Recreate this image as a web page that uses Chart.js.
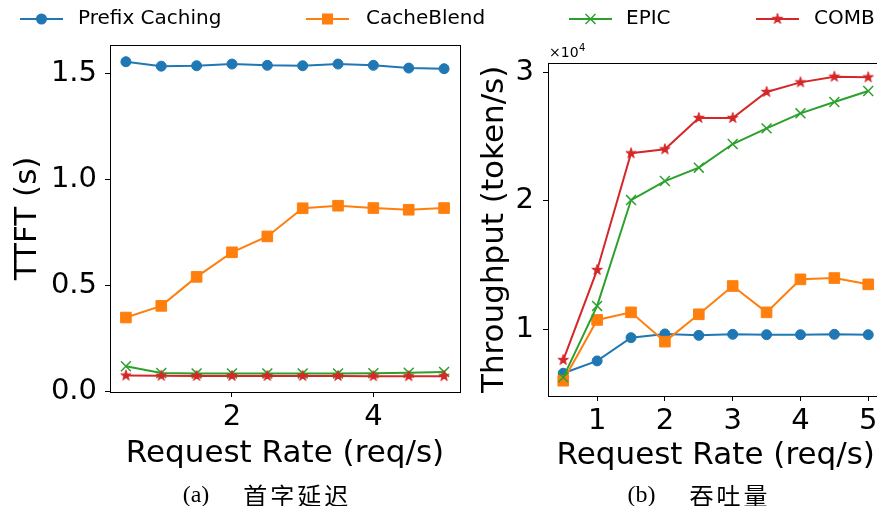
<!DOCTYPE html>
<html>
<head>
<meta charset="utf-8">
<script src="https://cdn.jsdelivr.net/npm/chart.js@4.4.1/dist/chart.umd.min.js"></script>
<style>
  html, body { margin: 0; padding: 0; background: #fff; overflow: hidden; }
  #wrap { position: relative; width: 877px; height: 506px; overflow: hidden; }
  #c1, #c2 { position: absolute; left: 0; top: 0; }
  .cap { position: absolute; top: 477px; display: flex; align-items: center; white-space: nowrap; transform: translateX(-50%); color: #000; }
  .cap .lbl { font: 24px "Liberation Serif", serif; }
  .cap .zh { font: 24px "Noto Sans CJK SC", sans-serif; letter-spacing: 3px; margin-left: 34px; }
</style>
</head>
<body>
<div id="wrap">
  <canvas id="c1" width="877" height="506"></canvas>
  <canvas id="c2" width="910" height="506"></canvas>
  <div class="cap" style="left:267px"><span class="lbl">(a)</span><span class="zh">首字延迟</span></div>
  <div class="cap" style="left:699px"><span class="lbl">(b)</span><span class="zh">吞吐量</span></div>
</div>
<script>
// data
const rates = [0.5, 1, 1.5, 2, 2.5, 3, 3.5, 4, 4.5, 5];
const seriesNames = ['Prefix Caching', 'CacheBlend', 'EPIC', 'COMB'];

// (a) TTFT in seconds
const ttftPrefix = [1.555, 1.534, 1.536, 1.544, 1.538, 1.536, 1.544, 1.538, 1.525, 1.522];
const ttftBlend  = [0.347, 0.402, 0.539, 0.655, 0.730, 0.863, 0.875, 0.864, 0.856, 0.864];
const ttftEpic   = [0.117, 0.085, 0.083, 0.083, 0.083, 0.083, 0.083, 0.084, 0.086, 0.090];
const ttftComb   = [0.073, 0.072, 0.071, 0.071, 0.071, 0.071, 0.071, 0.070, 0.070, 0.070];

// (b) throughput in token/s
const tputPrefix = [6580, 7540, 9350, 9640, 9530, 9610, 9580, 9580, 9610, 9580];
const tputBlend  = [6000, 10730, 11320, 9040, 11170, 13370, 11320, 13890, 13990, 13500];
const tputEpic   = [6260, 11820, 20060, 21540, 22580, 24420, 25640, 26810, 27690, 28550];
const tputComb   = [7610, 14620, 23700, 24010, 26450, 26450, 28470, 29220, 29660, 29610];

// tick labels
const ttftTicks = [0, 0.5, 1.0, 1.5];
const rateTicksA = [2, 4];
const rateTicksB = [1, 2, 3, 4, 5];
const tputTicks = [10000, 20000, 30000];

const FONT = 'DejaVu Sans';
const colors = ['#1f77b4', '#ff7f0e', '#2ca02c', '#d62728'];

// filled 5-point star like matplotlib '*'
function starCanvas(color, r) {
  const s = 16;
  const c = document.createElement('canvas');
  c.width = s; c.height = s;
  const g = c.getContext('2d');
  g.translate(s / 2, s / 2);
  g.beginPath();
  for (let i = 0; i < 10; i++) {
    const rad = i % 2 ? r * 0.382 : r;
    const a = -Math.PI / 2 + i * Math.PI / 5;
    g.lineTo(rad * Math.cos(a), rad * Math.sin(a));
  }
  g.closePath();
  g.fillStyle = color; g.fill();
  g.lineWidth = 1; g.strokeStyle = color; g.stroke();
  return c;
}
const star = starCanvas(colors[3], 5.5);

const markers = [
  { style: 'circle', radius: 5, bw: 1 },
  { style: 'rect', radius: 7.5, bw: 1 },
  { style: 'crossRot', radius: 7, bw: 1.5 },
  { style: star, radius: 6, bw: 0 }
];

function series(i, data) {
  const m = markers[i];
  return {
    label: seriesNames[i],
    data: rates.map((r, k) => ({ x: r, y: data[k] })),
    borderColor: colors[i],
    backgroundColor: colors[i],
    borderWidth: 2,
    pointStyle: m.style,
    pointRadius: m.radius,
    pointHoverRadius: m.radius,
    pointBorderWidth: m.bw,
    pointBorderColor: colors[i],
    pointBackgroundColor: colors[i],
    order: 4 - i,
    tension: 0,
    clip: false
  };
}

// box around the plot area (all four spines)
const frame = {
  id: 'frame',
  afterDraw(chart) {
    const { ctx, chartArea: a } = chart;
    ctx.save();
    ctx.strokeStyle = '#000';
    ctx.lineWidth = 1;
    ctx.strokeRect(Math.round(a.left) + 0.5, Math.round(a.top) + 0.5,
      Math.round(a.right - a.left), Math.round(a.bottom - a.top));
    ctx.restore();
  }
};

// shared legend across the top
const topLegend = {
  id: 'topLegend',
  afterDraw(chart) {
    const ctx = chart.ctx;
    const lineX = [20, 306, 569, 756];
    const textX = [78, 366, 626, 814];
    const y = 19;
    ctx.save();
    seriesNames.forEach((name, i) => {
      ctx.strokeStyle = colors[i];
      ctx.fillStyle = colors[i];
      ctx.lineWidth = 2;
      ctx.beginPath();
      ctx.moveTo(lineX[i], y); ctx.lineTo(lineX[i] + 43, y);
      ctx.stroke();
      const cx = lineX[i] + 21.5;
      if (i === 0) {
        ctx.beginPath(); ctx.arc(cx, y, 5.5, 0, Math.PI * 2); ctx.fill();
      } else if (i === 1) {
        ctx.fillRect(cx - 5.5, y - 5.5, 11, 11);
      } else if (i === 2) {
        ctx.lineWidth = 1.5;
        ctx.beginPath();
        ctx.moveTo(cx - 5, y - 5); ctx.lineTo(cx + 5, y + 5);
        ctx.moveTo(cx + 5, y - 5); ctx.lineTo(cx - 5, y + 5);
        ctx.stroke();
      } else {
        ctx.drawImage(star, cx - 8, y - 8);
      }
      ctx.fillStyle = '#000';
      ctx.font = '20px "' + FONT + '"';
      ctx.textBaseline = 'middle';
      ctx.fillText(name, textX[i], y);
    });
    ctx.restore();
  }
};

// x10^4 offset text on the throughput axis
const offsetText = {
  id: 'offsetText',
  afterDraw(chart) {
    const { ctx, chartArea: a } = chart;
    ctx.save();
    ctx.fillStyle = '#000';
    ctx.textBaseline = 'alphabetic';
    ctx.font = '14px "' + FONT + '"';
    ctx.fillText('×10', a.left + 1, 57);
    const w = ctx.measureText('×10').width;
    ctx.font = '10px "' + FONT + '"';
    ctx.fillText('4', a.left + 1 + w + 0.5, 51);
    ctx.restore();
  }
};

function gridOpts() {
  return { display: true, drawOnChartArea: false, drawTicks: true, tickLength: 5, color: '#000', lineWidth: 1 };
}
function tickFont() { return { family: FONT, size: 29 }; }
function titleFont() { return { family: FONT, size: 31 }; }

Chart.defaults.animation = false;
Chart.defaults.font.family = FONT;

new Chart(document.getElementById('c1').getContext('2d'), {
  type: 'line',
  data: {
    datasets: [series(0, ttftPrefix), series(1, ttftBlend), series(2, ttftEpic), series(3, ttftComb)]
  },
  options: {
    responsive: false,
    animation: false,
    layout: { padding: { left: 0, right: 417, top: 45, bottom: 0 } },
    plugins: { legend: { display: false }, tooltip: { enabled: false } },
    scales: {
      x: {
        type: 'linear', min: 0.275, max: 5.225,
        afterBuildTicks: s => { s.ticks = rateTicksA.map(v => ({ value: v })); },
        afterFit: s => { s.height = 114; },
        grid: gridOpts(),
        border: { display: false },
        ticks: { font: tickFont(), color: '#000', padding: 3, maxRotation: 0, autoSkip: false, callback: v => String(v) },
        title: { display: true, text: 'Request Rate (req/s)', font: titleFont(), color: '#000', padding: { top: 0, bottom: 33 } }
      },
      y: {
        type: 'linear', min: -0.0047, max: 1.634,
        afterBuildTicks: s => { s.ticks = ttftTicks.map(v => ({ value: v })); },
        afterFit: s => { s.width = 110; },
        grid: gridOpts(),
        border: { display: false },
        ticks: { font: tickFont(), color: '#000', padding: 8, callback: v => v.toFixed(1) },
        title: { display: true, text: 'TTFT (s)', font: titleFont(), color: '#000', padding: { top: 9, bottom: 0 } }
      }
    }
  },
  plugins: [frame, topLegend]
});

new Chart(document.getElementById('c2').getContext('2d'), {
  type: 'line',
  data: {
    datasets: [series(0, tputPrefix), series(1, tputBlend), series(2, tputEpic), series(3, tputComb)]
  },
  options: {
    responsive: false,
    animation: false,
    layout: { padding: { left: 470, right: 26.5, top: 62.7, bottom: 0 } },
    plugins: { legend: { display: false }, tooltip: { enabled: false } },
    scales: {
      x: {
        type: 'linear', min: 0.275, max: 5.225,
        afterBuildTicks: s => { s.ticks = rateTicksB.map(v => ({ value: v })); },
        afterFit: s => { s.height = 110; },
        grid: gridOpts(),
        border: { display: false },
        ticks: { font: tickFont(), color: '#000', padding: 3, maxRotation: 0, autoSkip: false, callback: v => String(v) },
        title: { display: true, text: 'Request Rate (req/s)', font: titleFont(), color: '#000', padding: { top: 0, bottom: 31 } }
      },
      y: {
        type: 'linear', min: 4810, max: 30750,
        afterBuildTicks: s => { s.ticks = tputTicks.map(v => ({ value: v })); },
        afterFit: s => { s.width = 78; },
        grid: gridOpts(),
        border: { display: false },
        ticks: { font: tickFont(), color: '#000', padding: 9, callback: v => String(Math.round(v / 10000)) },
        title: { display: true, text: 'Throughput (token/s)', font: titleFont(), color: '#000', padding: { top: 6, bottom: 0 } }
      }
    }
  },
  plugins: [frame, offsetText]
});
</script>
</body>
</html>
